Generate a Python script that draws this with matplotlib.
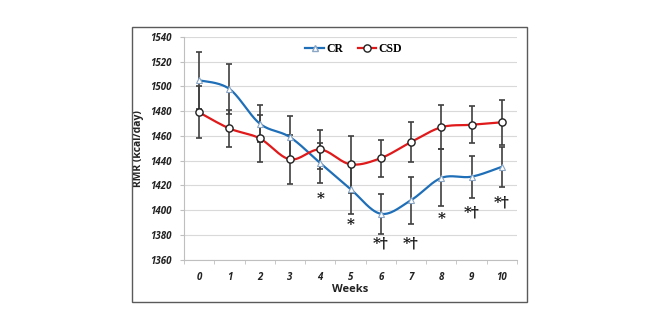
import numpy as np
import matplotlib
matplotlib.use("Agg")
import matplotlib.pyplot as plt
from matplotlib.patches import Rectangle
from matplotlib.lines import Line2D

weeks = [0, 1, 2, 3, 4, 5, 6, 7, 8, 9, 10]
cr_mean = [1505, 1498, 1470, 1459, 1438, 1417, 1397, 1408, 1426, 1427, 1435]
cr_sd = [23, 20, 15, 17, 16, 20, 16, 19, 23, 17, 16]
csd_mean = [1479, 1466, 1458, 1441, 1449, 1437, 1442, 1455, 1467, 1469, 1471]
csd_sd = [21, 15, 19, 20, 16, 23, 15, 16, 18, 15, 18]
sig_labels = ["", "", "", "", "*", "*", "*\u2020", "*\u2020", "*", "*\u2020", "*\u2020"]
sig_y = [0, 0, 0, 0, 1409, 1388, 1373, 1373, 1393, 1398, 1406]
yticks = [1360, 1380, 1400, 1420, 1440, 1460, 1480, 1500, 1520, 1540]

CR_COL = "#1f6fb8"
CSD_COL = "#e0191b"
ERR_COL = "#404040"


def excel_smooth(x, y, n=30):
    x = np.asarray(x, float)
    y = np.asarray(y, float)
    P = np.column_stack([x, y])
    Pp = np.vstack([P[0], P, P[-1]])
    out = []
    t = np.linspace(0, 1, n)[:, None]
    for i in range(len(P) - 1):
        p0, p3 = Pp[i + 1], Pp[i + 2]
        c1 = p0 + (Pp[i + 2] - Pp[i]) / 6.0
        c2 = p3 - (Pp[i + 3] - Pp[i + 1]) / 6.0
        seg = ((1 - t) ** 3) * p0 + 3 * ((1 - t) ** 2) * t * c1 + 3 * (1 - t) * t ** 2 * c2 + t ** 3 * p3
        out.append(seg if i == 0 else seg[1:])
    out = np.vstack(out)
    return out[:, 0], out[:, 1]


fig = plt.figure(figsize=(6.6, 3.3), dpi=100)
fig.patch.set_facecolor("white")
W, H = 660, 330
# outer frame
fig.patches.append(Rectangle((132 / W, 1 - 302 / H), (527 - 132) / W, (302 - 27) / H,
                             transform=fig.transFigure, fill=False, edgecolor="#5a5a5a",
                             linewidth=1.0))

ax = fig.add_axes([184 / W, 1 - 259.5 / H, (517 - 184) / W, (259.5 - 37) / H])
ax.set_xlim(-0.5, 10.5)
ax.set_ylim(1360, 1540)
ax.set_yticks(yticks)
ax.set_xticks(weeks)
ax.set_xticks(np.arange(-0.5, 11, 1), minor=True)
ax.grid(axis="y", color="#d9d9d9", linewidth=0.8)
ax.set_axisbelow(True)
for s in ["top", "right"]:
    ax.spines[s].set_visible(False)
for s in ["left", "bottom"]:
    ax.spines[s].set_color("#bfbfbf")
    ax.spines[s].set_linewidth(0.8)
ax.tick_params(axis="y", length=3, color="#bfbfbf", pad=6)
ax.tick_params(axis="x", which="major", length=0, pad=9)
ax.tick_params(axis="x", which="minor", length=3, color="#bfbfbf")
for lab in ax.get_yticklabels() + ax.get_xticklabels():
    lab.set_fontfamily("Open Sans")
    lab.set_fontweight("bold")
    lab.set_fontstyle("italic")
    lab.set_fontsize(7)
    lab.set_color("#222222")

# error bars
ax.errorbar(weeks, cr_mean, yerr=cr_sd, fmt="none", ecolor=ERR_COL, elinewidth=1.2,
            capsize=2, capthick=1.2, zorder=2)
ax.errorbar(weeks, csd_mean, yerr=csd_sd, fmt="none", ecolor=ERR_COL, elinewidth=1.2,
            capsize=2, capthick=1.2, zorder=2)

sx, sy = excel_smooth(weeks, cr_mean)
ax.plot(sx, sy, color=CR_COL, linewidth=1.6, zorder=3)
sx, sy = excel_smooth(weeks, csd_mean)
ax.plot(sx, sy, color=CSD_COL, linewidth=1.6, zorder=3)
ax.plot(weeks, cr_mean, linestyle="none", marker="^", markersize=4.5,
        markerfacecolor="white", markeredgecolor="#8aa6c4", markeredgewidth=0.8, zorder=4)
ax.plot(weeks, csd_mean, linestyle="none", marker="o", markersize=5.2,
        markerfacecolor="white", markeredgecolor="#202020", markeredgewidth=1.0, zorder=4)

for w, lab, yy in zip(weeks, sig_labels, sig_y):
    if lab:
        ax.text(w, yy, lab, ha="center", va="center", fontsize=11, fontweight="bold",
                family=["DejaVu Serif"], color="#111111")

ax.set_xlabel("Weeks", fontsize=8, fontweight="bold", family="Open Sans", labelpad=1,
              color="#222222")
ax.set_ylabel("RMR (kcal/day)", fontsize=7.5, fontweight="bold", family="Open Sans",
              labelpad=4, color="#222222")

handles = [
    Line2D([], [], color=CR_COL, linewidth=1.6, marker="^", markersize=4.5,
           markerfacecolor="white", markeredgecolor="#8aa6c4"),
    Line2D([], [], color=CSD_COL, linewidth=1.6, marker="o", markersize=5.2,
           markerfacecolor="white", markeredgecolor="#202020"),
]
leg = ax.legend(handles, ["CR", "CSD"], loc="center", bbox_to_anchor=(0.51, 0.945), ncol=2,
                frameon=False, handlelength=1.6, handletextpad=0.2, columnspacing=1.2,
                prop={"family": "Liberation Serif", "weight": "bold", "size": 8.5})

fig.savefig("out.png", dpi=100, facecolor="white")
